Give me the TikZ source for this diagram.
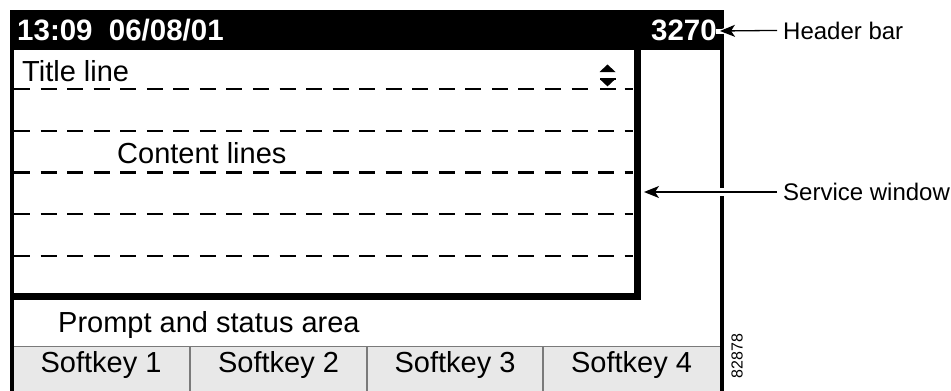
\documentclass[tikz,border=0pt]{standalone}
\usepackage{fontspec}
\setmainfont{Liberation Sans}
\usetikzlibrary{arrows.meta}
\definecolor{keygray}{HTML}{E8E8E8}
\definecolor{keyline}{HTML}{7A7A7A}
\begin{document}
\begin{tikzpicture}[x=1pt,y=-1pt,
  lbl/.style={font=\fontsize{29}{33}\selectfont, anchor=base west, inner sep=0pt},
  keylbl/.style={font=\fontsize{29}{33}\selectfont, anchor=base, inner sep=0pt},
  hdr/.style={font=\fontsize{29.5}{33}\selectfont\bfseries, text=white, inner sep=0pt},
  callout/.style={font=\fontsize{24}{28}\selectfont, anchor=base west, inner sep=0pt},
  dashline/.style={line width=2.2pt, dash pattern=on 16pt off 10.55pt},
  ptr/.style={line width=1.3pt, -{Stealth[length=15pt,width=12pt,inset=4pt]}},
  frameline/.style={line width=4pt},
  winline/.style={line width=7pt},
]
\useasboundingbox (0,0) rectangle (951,391);
% softkey row
\fill[keygray] (14,346) rectangle (720,391);
\draw[keyline, line width=1.5pt] (14,346.5) -- (720,346.5);
\foreach \xx in {190,367,543} \draw[keyline, line width=1.5pt] (\xx,346.5) -- (\xx,391);
% dashed content lines
\foreach \yy in {89,130.75,172.5,214.25,256}
  \draw[dashline] (14,\yy) -- (633,\yy);
% outer frame
\draw[frameline] (12,10) -- (12,391);
\draw[frameline] (722,10) -- (722,391);
% service window
\draw[winline] (637,50) -- (637,296.5) -- (10,296.5);
% header bar
\fill[black] (10,10) rectangle (724,50);
\node[hdr, anchor=base west] (clock) at (17,40.5) {13:09\hspace{0.55em}06/08/01};
\node[hdr, anchor=base east] (ext) at (717,40.5) {3270};
% scroll icon
\fill[white] (597,86.5) rectangle (617,91.5);
\fill (599.5,72) -- (615.5,72) -- (607.5,64.5) -- cycle;
\fill (599.5,77.8) rectangle (615.5,79.8);
\fill (600.5,79.8) -- (614.5,79.8) -- (607.5,86.4) -- cycle;
\fill (599.5,87.8) rectangle (615.5,90.2);
% texts
\node[lbl] (title) at (22,81) {Title line};
\node[lbl] (content) at (117,163) {Content lines};
\node[lbl] (prompt) at (58,332) {Prompt and status area};
\node[keylbl] (sk1) at (101,372) {Softkey 1};
\node[keylbl] (sk2) at (278.5,372) {Softkey 2};
\node[keylbl] (sk3) at (455,372) {Softkey 3};
\node[keylbl] (sk4) at (631.5,372) {Softkey 4};
\node[font=\fontsize{16}{18}\selectfont, rotate=90, inner sep=0pt] (fig) at (737,356) {82878};
% callouts
\node[callout] (hb) at (783,39) {Header bar};
\node[callout] (sw) at (783,200) {Service window};
\coordinate (hbt) at (720,31);
\coordinate (swt) at (644,192);
\draw[white, line width=5pt] (716,31) -- (740,31);
\fill[white] (717,31) -- (738,22.5) -- (738,39.5) -- cycle;
\draw[white, line width=8pt] (710,192) -- (734,192);
\draw[ptr] ([xshift=-6pt]hb.west) -- (hbt);
\draw[ptr] ([xshift=-6pt]sw.west |- swt) -- (swt);
\end{tikzpicture}
\end{document}
